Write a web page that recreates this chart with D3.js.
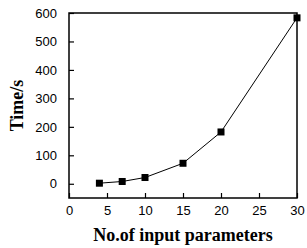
<!DOCTYPE html>
<html>
<head>
<meta charset="utf-8">
<script src="https://cdn.jsdelivr.net/npm/d3@7"></script>
<style>
  body { margin: 0; background: #fff; }
  .tick text { font-family: "Liberation Sans", Arial, sans-serif; font-size: 13px; fill: #000; }
  .axisTitle { font-family: "Liberation Serif", "Times New Roman", serif; font-size: 18px; font-weight: bold; fill: #000; }
</style>
</head>
<body>
<div id="chart"></div>
<script>
const params = [4, 7, 10, 15, 20, 30];
const times = [2, 8, 22, 72, 182, 583];
const xTicks = [0, 5, 10, 15, 20, 25, 30];
const yTicks = [0, 100, 200, 300, 400, 500, 600];

const W = 307, H = 248;
const margin = { top: 13, left: 69, right: 10, bottom: 50 },
  width = W - margin.left - margin.right,
  height = H - margin.top - margin.bottom;

const data = params.map((p, i) => ({ x: p, y: times[i] }));

const svg = d3.select("#chart").append("svg")
  .attr("width", W)
  .attr("height", H);

const g = svg.append("g")
  .attr("transform", "translate(" + margin.left + "," + margin.top + ")");

const xScale = d3.scaleLinear().domain([0, 30]).range([0, width]);
const yScale = d3.scaleLinear().domain([-50, 600]).range([height, 0]);

// axes, ticks pointing into the plot
const xAxis = g.append("g")
  .attr("transform", "translate(0," + height + ")")
  .call(d3.axisBottom(xScale).tickValues(xTicks).tickSizeInner(-5).tickSizeOuter(0).tickPadding(8));
const yAxis = g.append("g")
  .call(d3.axisLeft(yScale).tickValues(yTicks).tickSizeInner(-5).tickSizeOuter(0).tickPadding(12));

[xAxis, yAxis].forEach(a => {
  a.select(".domain").remove();
  a.selectAll(".tick line").attr("stroke", "#000").attr("stroke-width", 1.2);
});

// frame
g.append("rect")
  .attr("x", 0).attr("y", 0)
  .attr("width", width).attr("height", height)
  .attr("fill", "none")
  .attr("stroke", "#000")
  .attr("stroke-width", 1.5);

// line + markers
const line = d3.line().x(d => xScale(d.x)).y(d => yScale(d.y));
g.append("path")
  .datum(data)
  .attr("d", line)
  .attr("fill", "none")
  .attr("stroke", "#000")
  .attr("stroke-width", 1);

const s = 7;
g.selectAll(".marker")
  .data(data)
  .enter()
  .append("rect")
  .attr("class", "marker")
  .attr("x", d => xScale(d.x) - s / 2)
  .attr("y", d => yScale(d.y) - s / 2)
  .attr("width", s)
  .attr("height", s)
  .attr("fill", "#000");

// titles
g.append("text")
  .attr("class", "axisTitle")
  .attr("x", width / 2)
  .attr("y", height + 43)
  .style("text-anchor", "middle")
  .text("No.of input parameters");

g.append("text")
  .attr("class", "axisTitle")
  .attr("transform", "rotate(-90)")
  .attr("x", -height / 2)
  .attr("y", -46)
  .style("text-anchor", "middle")
  .text("Time/s");
</script>
</body>
</html>
